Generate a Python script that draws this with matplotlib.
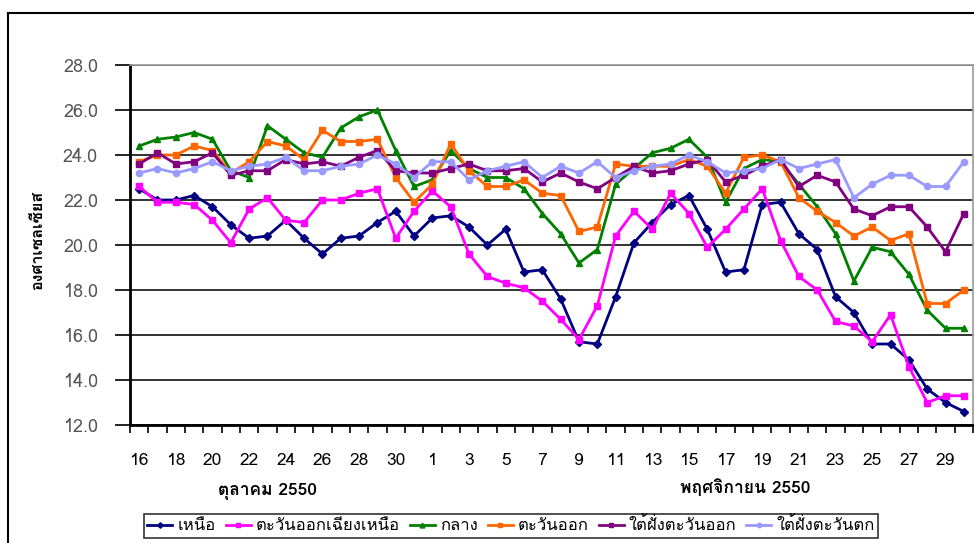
import matplotlib
matplotlib.use('Agg')
import matplotlib.pyplot as plt
from matplotlib import font_manager
from matplotlib.ft2font import FT2Font
from matplotlib.lines import Line2D

# หาฟอนต์ที่มีอักษรไทย
thai_fonts = []
for f in font_manager.fontManager.ttflist:
    try:
        if 0x0E01 in FT2Font(f.fname).get_charmap() and f.name not in thai_fonts:
            thai_fonts.append(f.name)
    except Exception:
        pass
families = thai_fonts[:1] + ['Liberation Sans', 'DejaVu Sans']
plt.rcParams['font.family'] = families

# ข้อมูลอุณหภูมิ (16 ต.ค. - 30 พ.ย. 2550)
days = list(range(16, 32)) + list(range(1, 31))
north = [22.5, 22.0, 22.0, 22.2, 21.7, 20.9, 20.3, 20.4, 21.1, 20.3, 19.6, 20.3, 20.4, 21.0, 21.5, 20.4,
         21.2, 21.3, 20.8, 20.0, 20.7, 18.8, 18.9, 17.6, 15.7, 15.6, 17.7, 20.1, 21.0, 21.8, 22.2, 20.7,
         18.8, 18.9, 21.8, 21.9, 20.5, 19.8, 17.7, 17.0, 15.6, 15.6, 14.9, 13.6, 13.0, 12.6]
northeast = [22.6, 21.9, 21.9, 21.8, 21.1, 20.1, 21.6, 22.1, 21.1, 21.0, 22.0, 22.0, 22.3, 22.5, 20.3, 21.5,
             22.4, 21.7, 19.6, 18.6, 18.3, 18.1, 17.5, 16.7, 15.8, 17.3, 20.4, 21.5, 20.7, 22.3, 21.4, 19.9,
             20.7, 21.6, 22.5, 20.2, 18.6, 18.0, 16.6, 16.4, 15.7, 16.9, 14.6, 13.0, 13.3, 13.3]
central = [24.4, 24.7, 24.8, 25.0, 24.7, 23.3, 23.0, 25.3, 24.7, 24.1, 23.9, 25.2, 25.7, 26.0, 24.2, 22.6,
           22.9, 24.2, 23.4, 23.0, 23.0, 22.5, 21.4, 20.5, 19.2, 19.8, 22.7, 23.4, 24.1, 24.3, 24.7, 23.9,
           21.9, 23.4, 23.8, 23.7, 22.7, 21.7, 20.5, 18.4, 19.9, 19.7, 18.7, 17.1, 16.3, 16.3]
east = [23.7, 24.0, 24.0, 24.4, 24.2, 23.2, 23.7, 24.6, 24.4, 23.8, 25.1, 24.6, 24.6, 24.7, 23.0, 21.9,
        22.7, 24.5, 23.3, 22.6, 22.6, 22.9, 22.3, 22.2, 20.6, 20.8, 23.6, 23.5, 23.5, 23.5, 23.8, 23.5,
        22.3, 23.9, 24.0, 23.7, 22.1, 21.5, 21.0, 20.4, 20.8, 20.2, 20.5, 17.4, 17.4, 18.0]
south_east = [23.6, 24.1, 23.6, 23.7, 24.1, 23.1, 23.3, 23.3, 23.8, 23.6, 23.7, 23.5, 23.9, 24.2, 23.3, 23.2,
              23.2, 23.4, 23.6, 23.3, 23.3, 23.4, 22.8, 23.2, 22.8, 22.5, 23.0, 23.5, 23.2, 23.3, 23.6, 23.8,
              22.8, 23.1, 23.5, 23.8, 22.6, 23.1, 22.8, 21.6, 21.3, 21.7, 21.7, 20.8, 19.7, 21.4]
south_west = [23.2, 23.4, 23.2, 23.4, 23.7, 23.3, 23.5, 23.6, 23.9, 23.3, 23.3, 23.5, 23.6, 24.0, 23.6, 23.0,
              23.7, 23.7, 22.9, 23.3, 23.5, 23.7, 23.0, 23.5, 23.2, 23.7, 23.0, 23.3, 23.5, 23.6, 24.0, 23.7,
              23.2, 23.3, 23.4, 23.8, 23.4, 23.6, 23.8, 22.1, 22.7, 23.1, 23.1, 22.6, 22.6, 23.7]

series = [
    ('เหนือ', north, '#000080', 'D', 4),
    ('ตะวันออกเฉียงเหนือ', northeast, '#FF00FF', 's', 4.5),
    ('กลาง', central, '#008000', '^', 5),
    ('ตะวันออก', east, '#FF6600', 's', 4.5),
    ('ใต้ฝั่งตะวันออก', south_east, '#800080', 's', 4.5),
    ('ใต้ฝั่งตะวันตก', south_west, '#9999FF', 'o', 4.5),
]

fig = plt.figure(figsize=(9.74, 5.43), dpi=100)
ax = fig.add_axes([130 / 974, 1 - 425 / 543, 843 / 974, 360 / 543])

x = list(range(len(days)))
for name, vals, color, marker, ms in series:
    ax.plot(x, vals, color=color, marker=marker, markersize=ms, linewidth=2, label=name, zorder=3)

# แกน y
ax.set_ylim(12, 28)
ax.set_yticks([12 + 2 * i for i in range(9)])
ax.set_yticklabels(['%.1f' % (12 + 2 * i) for i in range(9)], fontsize=13, color='#555555')
ax.tick_params(axis='y', direction='out', length=11, width=1.2, color='black', pad=12)
ax.grid(axis='y', color='#222222', linewidth=1.3, zorder=1)
fig.text(38 / 974, 1 - 240 / 543, 'องศาเซลเซียส', rotation=90, ha='center', va='center',
         fontsize=11.5, fontweight='bold')

# แกน x (แบบหมวดหมู่ของ Excel)
ax.set_xlim(-0.5, len(days) - 0.5)
ax.set_xticks(x[::2])
ax.set_xticklabels([str(d) for d in days[::2]], fontsize=12.5)
ax.set_xticks([i - 0.5 for i in range(len(days) + 1)], minor=True)
ax.tick_params(axis='x', which='major', length=0, pad=20)
ax.tick_params(axis='x', which='minor', direction='out', length=6, width=1.2, color='black')

for side in ['top', 'right']:
    ax.spines[side].set_color('#999999')
    ax.spines[side].set_linewidth(1.2)
for side in ['left', 'bottom']:
    ax.spines[side].set_color('black')
    ax.spines[side].set_linewidth(2)

fig.text(267 / 974, 1 - 492 / 543, 'ตุลาคม 2550', ha='center', va='center', fontsize=12.5, fontweight='bold')
fig.text(745 / 974, 1 - 487 / 543, 'พฤศจิกายน 2550', ha='center', va='center', fontsize=12.5, fontweight='bold')

# กรอบนอกของแผนภูมิ
fig.add_artist(Line2D([8 / 974, 1], [1 - 13 / 543] * 2, color='black', linewidth=1.5))
fig.add_artist(Line2D([8 / 974] * 2, [0, 1 - 13 / 543], color='black', linewidth=1.5))

leg = fig.legend(loc='center', bbox_to_anchor=(511 / 974, 1 - 526 / 543), ncol=6, fontsize=12,
                 frameon=True, fancybox=False, edgecolor='black', handlelength=1.5,
                 handletextpad=0.3, columnspacing=0.6, borderpad=0.2, markerscale=0.7)
leg.get_frame().set_linewidth(1.2)

fig.savefig('out.png', dpi=100)
